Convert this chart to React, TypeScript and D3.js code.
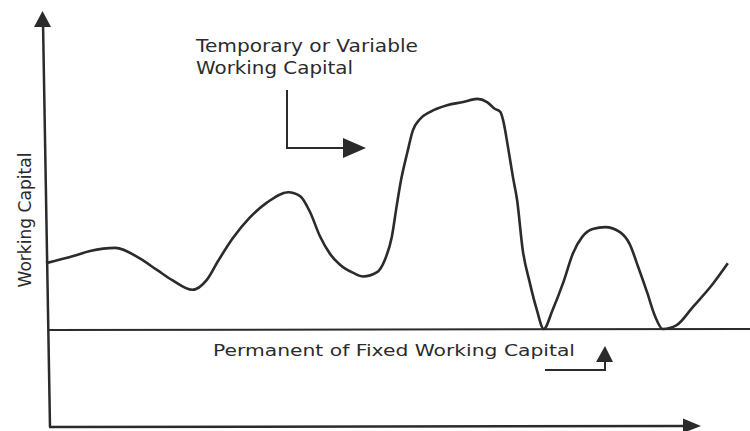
import React from "react";
import * as d3 from "d3";

// time (arbitrary units) and total working capital (arbitrary units)
const timePoints = [
  0, 3.9, 6.3, 9.9, 13.4, 15.9, 18.1, 20.9, 23, 24.6, 26.7, 29.1, 31.6, 34.6, 36.3, 37.7, 39.1, 40.6, 42,
  43.9, 45.3, 47.3, 48.4, 49.4, 50.1, 50.7, 51.6, 52.4, 53.4, 54.9, 57.3, 59.6, 61.6, 63, 64.1, 64.9, 65.3, 66, 66.7,
  67.3, 68.1, 69.1, 70.1, 71.1, 72.4, 73.9, 75.3, 76.6, 78.1, 79.9, 82, 83.4, 84.6, 85.9, 87, 88.1, 90.1, 92.4, 94.9, 97.4,
];
const capitalValues = [
  41.8, 43.6, 44.9, 45.7, 43.0, 40.0, 37.4, 35.0, 37.6, 42.4, 48.2, 53.4, 57.3, 59.9, 58.9, 54.9, 48.8, 44.1, 41.4,
  39.3, 38.4, 39.5, 42.6, 48.5, 56.4, 62.8, 69.9, 75.6, 78.5, 80.4, 82.1, 82.9, 83.7, 82.9, 81.2, 80.4, 78.3, 71.4, 63.8,
  57.9, 45.2, 36.9, 30.0, 25, 30.0, 36.9, 44.4, 48.5, 50.5, 51, 49.7, 46.6, 40.8, 34.2, 28.3, 25, 26, 30.6, 35.7, 41.8,
];
const permanentLevel = [25];
const topLabelLines = ["Temporary or Variable", "Working Capital"];
const bottomLabel = ["Permanent of Fixed Working Capital"];
const yAxisLabel = ["Working Capital"];

const W = 750;
const H = 431;
const INK = "#2b2b2b";
const FONT = "'DejaVu Sans', sans-serif";

export default function App() {
  const x = d3.scaleLinear().domain([0, 100]).range([46, 746]);
  const y = d3.scaleLinear().domain([0, 100]).range([427, 35]);

  const pts: [number, number][] = timePoints.map((t, i) => [x(t), y(capitalValues[i])]);
  const line = d3
    .line<[number, number]>()
    .x((d) => d[0])
    .y((d) => d[1])
    .curve(d3.curveMonotoneX);

  const baseY = y(permanentLevel[0]);
  const axisY = y(0);

  return (
    <svg
      width={W}
      height={H}
      style={{ position: "absolute", left: 0, top: 0, background: "#fff" }}
    >
      {/* y axis (slightly tilted like the scan) */}
      <line x1={50} y1={axisY} x2={43} y2={22} stroke={INK} strokeWidth={2.5} />
      <path d="M42.5,11 L34,27 L51,27 Z" fill={INK} />
      {/* x axis */}
      <line x1={49} y1={axisY} x2={688} y2={axisY - 1} stroke={INK} strokeWidth={2.5} />
      <path d="M701,426 L683,418.5 L683,433 Z" fill={INK} />

      {/* permanent working capital line */}
      <line x1={48} y1={baseY + 1} x2={750} y2={baseY} stroke={INK} strokeWidth={2} />

      {/* curve */}
      <path d={line(pts) || ""} fill="none" stroke={INK} strokeWidth={2.6} strokeLinejoin="round" />

      {/* top label */}
      <text x={196} y={52} fontFamily={FONT} fontSize={17} fill={INK} textLength={222} lengthAdjust="spacingAndGlyphs">
        {topLabelLines[0]}
      </text>
      <text x={196} y={74} fontFamily={FONT} fontSize={17} fill={INK} textLength={157} lengthAdjust="spacingAndGlyphs">
        {topLabelLines[1]}
      </text>
      {/* top arrow */}
      <path d="M287,90 L287,148 L346,148" fill="none" stroke={INK} strokeWidth={2} />
      <path d="M366,148 L343,138 L343,158 Z" fill={INK} />

      {/* y axis label */}
      <text
        transform="translate(31,220) rotate(-90)"
        textAnchor="middle"
        fontFamily={FONT}
        fontSize={17.5}
        fill={INK}
        textLength={135}
        lengthAdjust="spacingAndGlyphs"
      >
        {yAxisLabel[0]}
      </text>

      {/* bottom label */}
      <text x={213} y={356} fontFamily={FONT} fontSize={16.5} fill={INK} textLength={362} lengthAdjust="spacingAndGlyphs">
        {bottomLabel[0]}
      </text>
      {/* bottom arrow */}
      <path d="M545,370 L605,370 L605,359" fill="none" stroke={INK} strokeWidth={2} />
      <path d="M605,346 L596,362 L613,362 Z" fill={INK} />
    </svg>
  );
}
